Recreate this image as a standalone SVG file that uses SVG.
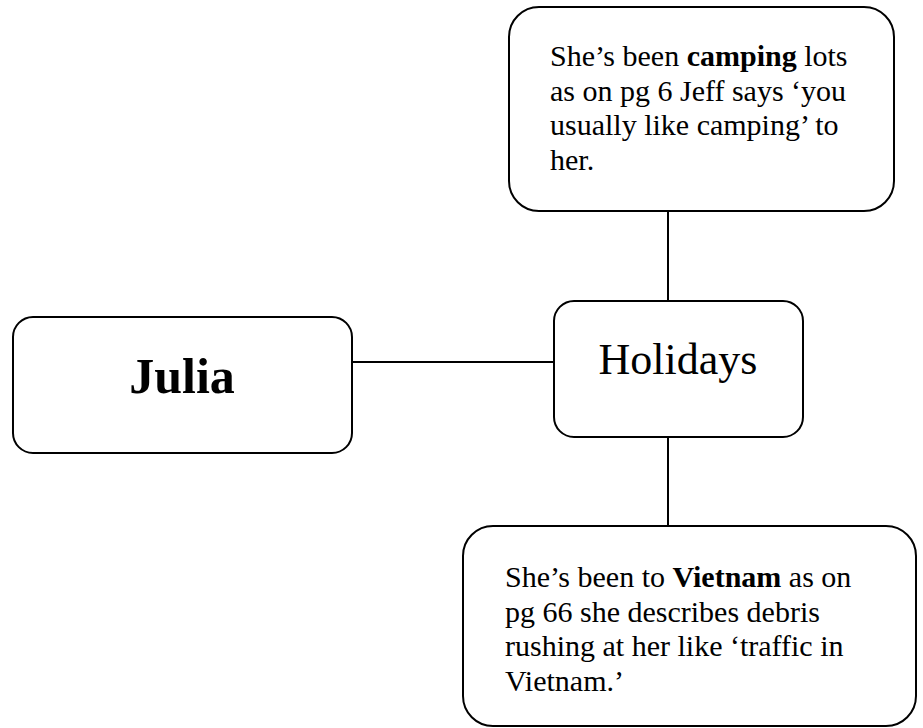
<svg xmlns="http://www.w3.org/2000/svg" width="923" height="728" viewBox="0 0 923 728">
  <style>
    .box { fill: #ffffff; stroke: #000000; stroke-width: 2; }
    .conn { stroke: #000000; stroke-width: 2; fill: none; }
    .t { font-family: "Liberation Serif", "Times New Roman", serif; fill: #000000; }
    .body { font-size: 30px; }
    .b { font-weight: bold; }
  </style>
  <rect width="923" height="728" fill="#ffffff"/>
  <g id="connectors">
    <line class="conn" x1="352" y1="362" x2="554" y2="362"/>
    <line class="conn" x1="668" y1="211" x2="668" y2="301"/>
    <line class="conn" x1="668" y1="437" x2="668" y2="526"/>
  </g>
  <g id="node-camping">
    <rect class="box" x="509" y="7" width="385" height="204" rx="30" ry="30"/>
    <text class="t body" x="550" y="66">She’s been <tspan class="b">camping</tspan> lots</text>
    <text class="t body" x="550" y="100.5">as on pg 6 Jeff says ‘you</text>
    <text class="t body" x="550" y="135">usually like camping’ to</text>
    <text class="t body" x="550" y="169.5">her.</text>
  </g>
  <g id="node-julia">
    <rect class="box" x="13" y="317" width="339" height="136" rx="20" ry="20"/>
    <text class="t b" x="182" y="393" font-size="50" text-anchor="middle">Julia</text>
  </g>
  <g id="node-holidays">
    <rect class="box" x="554" y="301" width="249" height="136" rx="20" ry="20"/>
    <text class="t" x="678" y="374" font-size="44" text-anchor="middle">Holidays</text>
  </g>
  <g id="node-vietnam">
    <rect class="box" x="463" y="526" width="453" height="200" rx="30" ry="30"/>
    <text class="t body" x="505" y="587">She’s been to <tspan class="b">Vietnam</tspan> as on</text>
    <text class="t body" x="505" y="621.5">pg 66 she describes debris</text>
    <text class="t body" x="505" y="656">rushing at her like ‘traffic in</text>
    <text class="t body" x="505" y="690.5">Vietnam.’</text>
  </g>
</svg>
